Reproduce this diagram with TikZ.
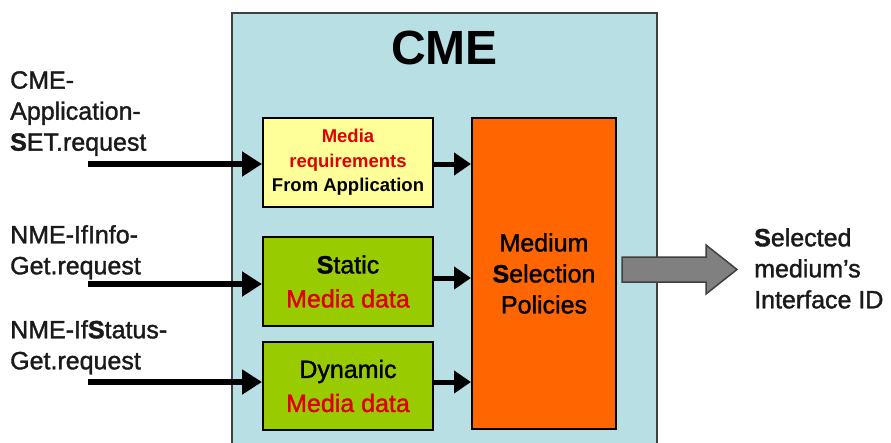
\documentclass[tikz,border=0pt]{standalone}
\usepackage{fontspec}
\setmainfont{Liberation Sans}
\newfontfamily\heavy[FakeBold=1.4]{Liberation Sans}
\usetikzlibrary{arrows.meta}

\definecolor{cmeblue}{HTML}{B8DFE3}
\definecolor{reqyellow}{HTML}{FFFF99}
\definecolor{datagreen}{HTML}{99CC00}
\definecolor{policyorange}{HTML}{FF6600}
\definecolor{textred}{HTML}{E00000}
\definecolor{outgray}{HTML}{808080}
\definecolor{framegray}{HTML}{404040}
\definecolor{labelink}{HTML}{1A1A1A}

\tikzset{
  sidelabel/.style={inner sep=0pt, align=left, text=labelink,
    font=\fontsize{25}{31}\selectfont\heavy},
  innerbox/.style={draw=black, line width=2pt, inner sep=0pt, align=center},
  inarrow/.style={line width=6pt, -{Triangle[length=20pt,width=24pt]}},
  toarrow/.style={line width=5pt, -{Triangle[length=17pt,width=22pt]}},
}

\begin{document}
\begin{tikzpicture}[x=1pt,y=-1pt]
\clip (0,0) rectangle (891,442);
\fill[white] (0,0) rectangle (891,442);

% CME container
\draw[fill=cmeblue, draw=framegray, line width=2pt] (232,13) rectangle (657,460);
\node[font=\fontsize{48}{48}\selectfont\bfseries, inner sep=0pt] (cme) at (444.5,48) {CME};

% inner function blocks
\node[innerbox, fill=reqyellow, minimum width=170pt, minimum height=89pt,
      font=\fontsize{18.5}{24.5}\selectfont\bfseries]
  (req) at (348,162.5)
  {\textcolor{textred}{Media}\\\textcolor{textred}{requirements}\\From Application};
\node[innerbox, fill=datagreen, minimum width=170pt, minimum height=89pt,
      font=\fontsize{25}{34}\selectfont\heavy]
  (static) at (348,281.5)
  {\textbf{S}tatic\\\textcolor{textred}{Media data}};
\node[innerbox, fill=datagreen, minimum width=170pt, minimum height=88pt,
      font=\fontsize{25}{34}\selectfont\heavy]
  (dynamic) at (348,386)
  {Dynamic\\\textcolor{textred}{Media data}};
\node[innerbox, fill=policyorange, minimum width=144pt, minimum height=311pt,
      font=\fontsize{25}{31}\selectfont\heavy]
  (policy) at (544,273.5)
  {Medium\\\textbf{S}election\\Policies};

% primitives entering the CME
\node[sidelabel, anchor=north west] (lblA) at (10,71) {CME-\\Application-\\\textbf{S}ET.request};
\node[sidelabel, anchor=north west] (lblB) at (10,225) {NME-IfInfo-\\Get.request};
\node[sidelabel, anchor=north west] (lblC) at (10,320) {NME-If\textbf{S}tatus-\\Get.request};

\coordinate (srcA) at (88,164);
\coordinate (srcB) at (88,284);
\coordinate (srcC) at (88,382);
\draw[inarrow] (srcA) -- (req.west |- srcA);
\draw[inarrow] (srcB) -- (static.west |- srcB);
\draw[inarrow] (srcC) -- (dynamic.west |- srcC);

% blocks feeding the policy block
\draw[toarrow] (req.east |- 0,164) -- (policy.west |- 0,164);
\draw[toarrow] (static.east |- 0,278) -- (policy.west |- 0,278);
\draw[toarrow] (dynamic.east |- 0,382) -- (policy.west |- 0,382);

% result leaving the CME
\draw[fill=outgray, draw=framegray, line width=1.5pt, line join=miter]
  (622,257) -- (706,257) -- (706,245) -- (737,269.5) -- (706,294)
  -- (706,282) -- (622,282) -- cycle;
\node[sidelabel, anchor=north west] (lblOut) at (754,228)
  {\textbf{S}elected\\medium’s\\Interface ID};
\end{tikzpicture}
\end{document}
